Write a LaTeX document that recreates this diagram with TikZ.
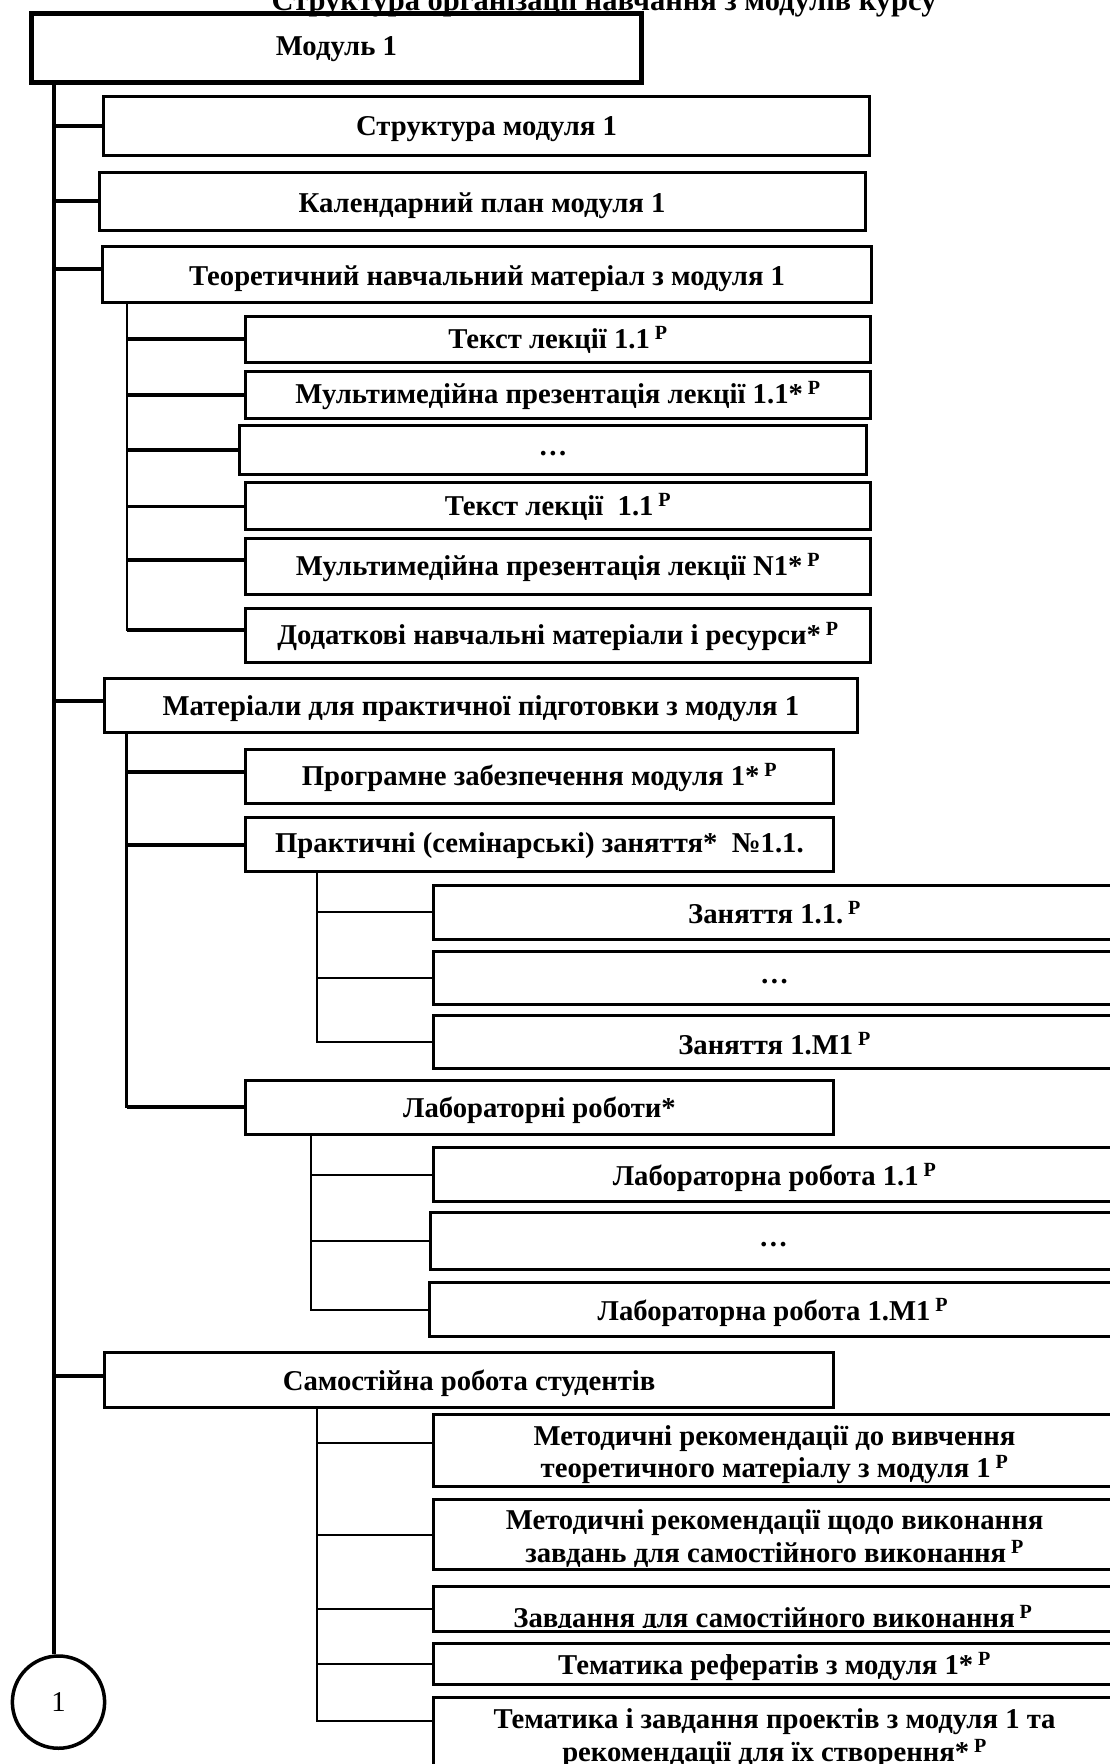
\documentclass[tikz,border=0pt]{standalone}
\usepackage{fontspec}
\setmainfont{Liberation Serif}
\newcommand\bx[7][3]{\node[boxf, minimum width={(#5-#3)*1.1248pt}, minimum height={(#6-#4)*1.1248pt}] (#2) at ({(#3+#5)/2},{(#4+#6)/2}) {};
  \node[boxt] (#2t) at ([yshift={-#1*1.1248pt}]#2.center) {#7};}
\newcommand\rp{\,\textsuperscript{P}}
\tikzset{
  boxf/.style={draw, line width=3pt, inner sep=0pt},
  boxt/.style={inner sep=0pt, align=center, font=\bfseries\fontsize{28.7}{32.6}\selectfont},
  trunk/.style={line width=4pt},
  br0/.style={line width=4pt},
  vone/.style={line width=2.5pt, line cap=rect},
  brone/.style={line width=3.5pt},
  vtwo/.style={line width=2pt, line cap=rect},
  brtwo/.style={line width=2pt},
}
\begin{document}
\begin{tikzpicture}[x=1.1248pt, y=-1.1248pt]
\useasboundingbox (0,0) rectangle (986,1568);
\node[font=\bfseries\fontsize{30.5}{34}\selectfont, anchor=base] (title) at (537,9) {Структура організації навчання з модулів курсу};
% level 0
\bx[1]{M1}{28}{12}{570}{73}{Модуль 1}
\path (M1) node[draw, line width=5pt, minimum width={542*1.1248pt}, minimum height={61*1.1248pt}] {};
\bx{S1}{92}{86}{773}{138}{Структура модуля 1}
\bx[4]{K1}{88}{153}{769}{205}{Календарний план модуля 1}
\bx[4]{T1}{91}{219}{775}{269}{Теоретичний навчальний матеріал з модуля 1}
\bx[0.5]{t1}{218}{281}{774}{322}{Текст лекції 1.1\rp}
\bx[0.5]{t2}{218}{330}{774}{372}{Мультимедійна презентація лекції 1.1*\rp}
\bx[3]{t3}{213}{378}{770}{422}{…}
\bx[1]{t4}{218}{429}{774}{471}{Текст лекції~ 1.1\rp}
\bx[1]{t5}{218}{479}{774}{528}{Мультимедійна презентація лекції N1*\rp}
\bx[1]{t6}{218}{541}{774}{589}{Додаткові навчальні матеріали і ресурси*\rp}
\bx{P1}{93}{603}{762}{651}{Матеріали для практичної підготовки з модуля 1}
\bx[1]{p1}{218}{666}{741}{714}{Програмне забезпечення модуля 1*\rp}
\bx[1]{p2}{218}{727}{741}{775}{Практичні (семінарські) заняття*~ №1.1.}
\bx[0.5]{z1}{385}{787}{992}{835}{Заняття 1.1.\rp}
\bx{z2}{385}{846}{992}{893}{…}
\bx[1]{z3}{385}{903}{992}{950}{Заняття 1.М1\rp}
\bx{p3}{218}{960}{741}{1008}{Лабораторні роботи*}
\bx{l1}{385}{1020}{992}{1068}{Лабораторна робота 1.1\rp}
\bx{l2}{383}{1078}{992}{1128}{…}
\bx{l3}{382}{1140}{992}{1188}{Лабораторна робота 1.М1\rp}
\bx{C1}{93}{1202}{741}{1251}{Самостійна робота студентів}
\bx[4]{c1}{385}{1257}{992}{1321}{Методичні рекомендації до вивчення\\теоретичного матеріалу з модуля 1\rp}
\bx[3.5]{c2}{385}{1333}{992}{1395}{Методичні рекомендації щодо виконання\\завдань для самостійного виконання\rp}
\bx{c3}{385}{1410}{992}{1450}{}
\begin{scope}
  \clip ([yshift=-2pt]c3.north west) rectangle ([yshift=5pt]c3.south east);
  \node[font=\bfseries\fontsize{28.7}{32.6}\selectfont, anchor=base] (c3x) at (687,1447) {Завдання для самостійного виконання\rp};
\end{scope}
\bx[2]{c4}{385}{1461}{992}{1497}{Тематика рефератів з модуля 1*\rp}
\bx[2]{c5}{385}{1509}{992}{1577}{Тематика і завдання проектів з модуля 1 та\\рекомендації для їх створення*\rp}
\node[draw, circle, line width=3.5pt, minimum size={82*1.1248pt}, inner sep=0pt, font=\fontsize{28.7}{32}\selectfont] (one) at (52,1513) {1};
% trunk
\coordinate (tr) at ([xshift=24.2pt]M1.south west);
\draw[trunk] (tr) -- (tr |- one.north);
\coordinate (T1w) at ([yshift=5.1pt]T1.west);
\coordinate (P1w) at ([yshift=4.5pt]P1.west);
\coordinate (C1w) at ([yshift=3.4pt]C1.west);
\draw[br0] (tr |- S1.west) -- (S1.west);
\draw[br0] (tr |- K1.west) -- (K1.west);
\draw[br0] (tr |- T1w) -- (T1w);
\draw[br0] (tr |- P1w) -- (P1w);
\draw[br0] (tr |- C1w) -- (C1w);
% theory
\coordinate (tv) at ([xshift=25.9pt]T1.south west);
\coordinate (t5w) at ([yshift=6.2pt]t5.west);
\coordinate (t6w) at ([yshift=5.6pt]t6.west);
\draw[vone] (tv) -- (tv |- t6w);
\foreach \n in {t1,t2,t3,t4} \draw[brone] (tv |- \n.west) -- (\n.west);
\draw[brone] (tv |- t5w) -- (t5w);
\draw[brone] (tv |- t6w) -- (t6w);
% practice
\coordinate (pv) at ([xshift=23.6pt]P1.south west);
\coordinate (p1w) at ([yshift=4.5pt]p1.west);
\draw[vone] (pv) -- (pv |- p3.west);
\draw[brone] (pv |- p1w) -- (p1w);
\draw[brone] (pv |- p2.west) -- (p2.west);
\draw[brone] (pv |- p3.west) -- (p3.west);
\coordinate (zv) at ([xshift=73.1pt]p2.south west);
\draw[vtwo] (zv) -- (zv |- z3.west);
\foreach \n in {z1,z2,z3} \draw[brtwo] (zv |- \n.west) -- (\n.west);
\coordinate (lv) at ([xshift=67.5pt]p3.south west);
\draw[vtwo] (lv) -- (lv |- l3.west);
\foreach \n in {l1,l2,l3} \draw[brtwo] (lv |- \n.west) -- (\n.west);
% self work
\coordinate (cv) at ([xshift=213.7pt]C1.south west);
\coordinate (c1w) at ([yshift=6.7pt]c1.west);
\coordinate (c5w) at ([yshift=14.6pt]c5.west);
\draw[vtwo] (cv) -- (cv |- c5w);
\draw[brtwo] (cv |- c1w) -- (c1w);
\foreach \n in {c2,c3,c4} \draw[brtwo] (cv |- \n.west) -- (\n.west);
\draw[brtwo] (cv |- c5w) -- (c5w);
\end{tikzpicture}
\end{document}
